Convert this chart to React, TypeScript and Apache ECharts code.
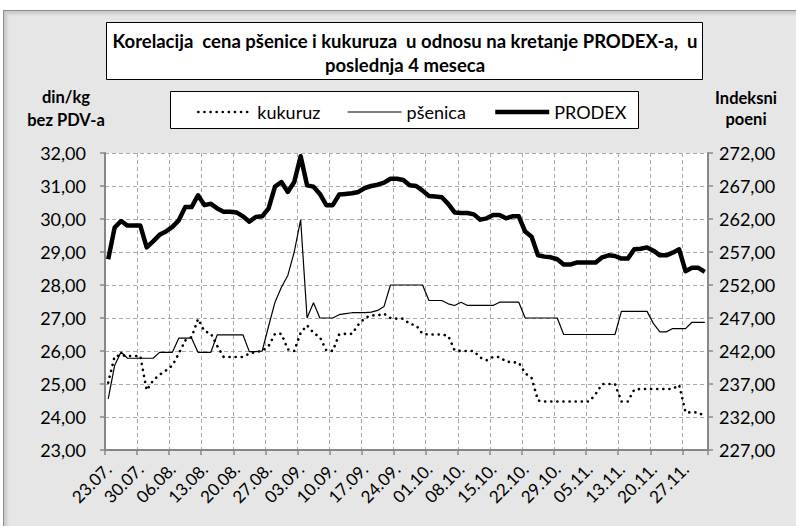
import React, { useEffect, useRef } from "react";
import * as echarts from "echarts";

// Trading days (23.07. – 30.11.)
const dates = [
  "23.07.", "24.07.", "25.07.", "26.07.", "27.07.",
  "30.07.", "31.07.", "01.08.", "02.08.", "03.08.",
  "06.08.", "07.08.", "08.08.", "09.08.", "10.08.",
  "13.08.", "14.08.", "15.08.", "16.08.", "17.08.",
  "20.08.", "21.08.", "22.08.", "23.08.", "24.08.",
  "27.08.", "28.08.", "29.08.", "30.08.", "31.08.",
  "03.09.", "04.09.", "05.09.", "06.09.", "07.09.",
  "10.09.", "11.09.", "12.09.", "13.09.", "14.09.",
  "17.09.", "18.09.", "19.09.", "20.09.", "21.09.",
  "24.09.", "25.09.", "26.09.", "27.09.", "28.09.",
  "01.10.", "02.10.", "03.10.", "04.10.", "05.10.",
  "08.10.", "09.10.", "10.10.", "11.10.", "12.10.",
  "15.10.", "16.10.", "17.10.", "18.10.", "19.10.",
  "22.10.", "23.10.", "24.10.", "25.10.", "26.10.",
  "29.10.", "30.10.", "31.10.", "01.11.", "02.11.",
  "05.11.", "06.11.", "07.11.", "08.11.", "09.11.",
  "13.11.", "14.11.", "15.11.", "16.11.", "19.11.",
  "20.11.", "21.11.", "22.11.", "23.11.", "26.11.",
  "27.11.", "28.11.", "29.11.", "30.11.",
];

// din/kg bez PDV-a
const kukuruz = [
  25.04, 25.84, 25.87, 25.85, 25.85, 25.85, 24.81, 25.11, 25.28, 25.41,
  25.56, 25.92, 26.32, 26.42, 26.97, 26.6, 26.53, 26.15, 25.82, 25.82,
  25.82, 25.82, 25.92, 25.97, 26.0, 26.15, 26.52, 26.52, 26.05, 26.0,
  26.55, 26.78, 26.55, 26.42, 26.02, 26.0, 26.5, 26.52, 26.52, 26.8,
  27.0, 27.08, 27.08, 27.13, 27.0, 26.98, 26.98, 26.82, 26.78, 26.52,
  26.5, 26.5, 26.5, 26.46, 26.02, 26.0, 26.0, 26.0, 25.8, 25.72,
  25.82, 25.82, 25.68, 25.66, 25.65, 25.33, 25.18, 24.5, 24.47, 24.47,
  24.47, 24.47, 24.47, 24.47, 24.47, 24.47, 24.7, 25.0, 25.0, 25.0,
  24.47, 24.47, 24.83, 24.85, 24.85, 24.85, 24.85, 24.85, 24.85, 24.97,
  24.14, 24.14, 24.14, 24.02,
];

const psenica = [
  24.55, 25.56, 25.97, 25.78, 25.78, 25.78, 25.78, 25.78, 25.96, 25.96,
  25.96, 26.39, 26.39, 26.39, 25.96, 25.96, 25.96, 26.49, 26.49, 26.49,
  26.49, 26.49, 25.98, 25.98, 26.0, 26.75, 27.48, 27.93, 28.29, 29.0,
  29.98, 27.0, 27.46, 27.0, 27.0, 27.0, 27.1, 27.13, 27.16, 27.16,
  27.16, 27.18, 27.23, 27.35, 28.0, 28.0, 28.0, 28.0, 28.0, 28.0,
  27.53, 27.53, 27.53, 27.43, 27.38, 27.48, 27.38, 27.38, 27.38, 27.38,
  27.38, 27.48, 27.48, 27.48, 27.48, 27.0, 27.0, 27.0, 27.0, 27.0,
  27.0, 26.5, 26.5, 26.5, 26.5, 26.5, 26.5, 26.5, 26.5, 26.5,
  27.2, 27.2, 27.2, 27.2, 27.2, 26.83, 26.58, 26.58, 26.68, 26.68,
  26.68, 26.87, 26.87, 26.87,
];

// Indeksni poeni
const prodex = [
  255.9, 260.7, 261.7, 261.0, 261.0, 261.0, 257.7, 258.6, 259.6, 260.1,
  260.8, 261.8, 263.8, 263.8, 265.6, 264.1, 264.3, 263.6, 263.1, 263.1,
  263.0, 262.4, 261.6, 262.3, 262.4, 263.6, 266.9, 267.6, 266.1, 267.6,
  271.5, 267.1, 266.9, 265.8, 264.1, 264.1, 265.7, 265.8, 265.9, 266.1,
  266.7, 267.0, 267.2, 267.5, 268.1, 268.1, 267.9, 267.1, 267.0, 266.3,
  265.5, 265.4, 265.3, 264.3, 263.0, 262.9, 262.9, 262.7, 261.9, 262.1,
  262.6, 262.6, 262.1, 262.4, 262.4, 260.1, 259.3, 256.5, 256.3, 256.2,
  255.9, 255.1, 255.1, 255.4, 255.4, 255.4, 255.4, 256.2, 256.5, 256.4,
  256.0, 256.0, 257.4, 257.5, 257.7, 257.2, 256.5, 256.5, 256.9, 257.4,
  254.1, 254.6, 254.6, 254.0,
];

const leftAxisRange = [23, 32, 1];
const rightAxisRange = [227, 272, 5];

const titleText = "Korelacija  cena pšenice i kukuruza  u odnosu na kretanje PRODEX-a,  u\nposlednja 4 meseca";
const leftAxisName = "din/kg\nbez PDV-a";
const rightAxisName = "Indeksni\npoeni";
const seriesNames = ["kukuruz", "pšenica", "PRODEX"];

const FONT = "Lato, 'Open Sans', sans-serif";
const fmt = (v: number) => v.toFixed(2).replace(".", ",");

export default function App() {
  const ref = useRef<HTMLDivElement>(null);

  useEffect(() => {
    if (!ref.current) return;
    const chart = echarts.init(ref.current, undefined, { renderer: "svg" });
    const axisGray = "#878787";
    const gridGray = "#a9a9a9";
    const styles = [
      { color: "#000", width: 2.6, type: [0.1, 6], cap: "round" },
      { color: "#000", width: 1.2, type: "solid", cap: "butt" },
      { color: "#000", width: 4.5, type: "solid", cap: "butt", join: "round" },
    ];
    const legendCommon = {
      top: 103,
      itemWidth: 54,
      itemHeight: 18,
      padding: 0,
      selectedMode: false,
      itemStyle: { opacity: 0 },
      textStyle: { fontSize: 18, color: "#000", fontFamily: FONT },
    };
    const boldText = (size: number, lh: number) => ({
      fill: "#000",
      font: `bold ${size}px ${FONT}`,
      fontSize: size,
      fontWeight: "bold",
      fontFamily: FONT,
      lineHeight: lh,
      align: "center",
      verticalAlign: "middle",
      textAlign: "center",
      textVerticalAlign: "middle",
    });
    chart.setOption({
      animation: false,
      backgroundColor: "transparent",
      textStyle: { fontFamily: FONT },
      grid: {
        left: 105,
        right: 88,
        top: 153,
        bottom: 79,
        show: true,
        backgroundColor: "#ffffff",
        borderWidth: 0,
        containLabel: false,
        outerBoundsMode: "none",
      },
      legend: [
        { ...legendCommon, left: 197, data: [seriesNames[0]], lineStyle: { ...styles[0] } },
        { ...legendCommon, left: 347, data: [seriesNames[1]], lineStyle: { ...styles[1] } },
        { ...legendCommon, left: 493, data: [seriesNames[2]], lineStyle: { ...styles[2] } },
      ],
      xAxis: {
        type: "category",
        data: dates,
        boundaryGap: true,
        axisLine: { show: true, lineStyle: { color: axisGray, width: 2 } },
        axisTick: { show: true, interval: 4, length: 5, lineStyle: { color: axisGray, width: 1.5 } },
        axisLabel: { interval: 4, rotate: 45, fontSize: 17, color: "#000", margin: 16, fontFamily: FONT },
        splitLine: { show: true, interval: 4, lineStyle: { color: gridGray, type: [4, 3], width: 1 } },
      },
      yAxis: [
        {
          type: "value",
          position: "left",
          min: leftAxisRange[0],
          max: leftAxisRange[1],
          interval: leftAxisRange[2],
          axisLine: { show: true, lineStyle: { color: axisGray, width: 2 } },
          axisTick: { show: true, length: 5, lineStyle: { color: axisGray, width: 1.5 } },
          axisLabel: { formatter: fmt, fontSize: 18, color: "#000", margin: 19, fontFamily: FONT },
          splitLine: { show: true, lineStyle: { color: gridGray, type: [4, 3], width: 1 } },
        },
        {
          type: "value",
          position: "right",
          min: rightAxisRange[0],
          max: rightAxisRange[1],
          interval: rightAxisRange[2],
          axisLine: { show: true, lineStyle: { color: axisGray, width: 2 } },
          axisTick: { show: true, length: 5, lineStyle: { color: axisGray, width: 1.5 } },
          axisLabel: { formatter: fmt, fontSize: 18, color: "#000", margin: 11, fontFamily: FONT },
          splitLine: { show: false },
        },
      ],
      graphic: [
        {
          type: "rect",
          z: 0,
          shape: { x: 106.5, y: 22.5, width: 596, height: 57 },
          style: { fill: "#ffffff", stroke: "#000000", lineWidth: 1 },
        },
        {
          type: "text",
          z: 1,
          x: 405,
          y: 53,
          style: { text: titleText, ...boldText(18.5, 23.5) },
        },
        {
          type: "rect",
          z: 0,
          shape: { x: 170.5, y: 91.5, width: 468, height: 37 },
          style: { fill: "#ffffff", stroke: "#000000", lineWidth: 1 },
        },
        {
          type: "text",
          x: 66,
          y: 108.5,
          style: { text: leftAxisName, ...boldText(16.5, 23) },
        },
        {
          type: "text",
          x: 746,
          y: 108,
          style: { text: rightAxisName, ...boldText(16.5, 21) },
        },
      ],
      series: [
        {
          name: seriesNames[0],
          type: "line",
          yAxisIndex: 0,
          data: kukuruz,
          symbol: "none",
          z: 3,
          lineStyle: styles[0],
          itemStyle: { color: "#000" },
        },
        {
          name: seriesNames[1],
          type: "line",
          yAxisIndex: 0,
          data: psenica,
          symbol: "none",
          z: 3,
          lineStyle: styles[1],
          itemStyle: { color: "#000" },
        },
        {
          name: seriesNames[2],
          type: "line",
          yAxisIndex: 1,
          data: prodex,
          symbol: "none",
          z: 4,
          lineStyle: styles[2],
          itemStyle: { color: "#000" },
        },
      ],
    });
    return () => chart.dispose();
  }, []);

  return (
    <div style={{ position: "absolute", left: 0, top: 0, width: 796, height: 529, background: "#ffffff" }}>
      <div
        style={{
          position: "absolute",
          left: 3,
          top: 10,
          width: 793,
          height: 516,
          boxSizing: "border-box",
          background: "#e6e6e6",
          borderTop: "1px solid #8c8c8c",
          borderLeft: "1px solid #8c8c8c",
          boxShadow: "inset 3px 3px 3px rgba(0,0,0,0.12)",
        }}
      />
      <div ref={ref} style={{ position: "absolute", left: 0, top: 0, width: 796, height: 529 }} />
    </div>
  );
}
